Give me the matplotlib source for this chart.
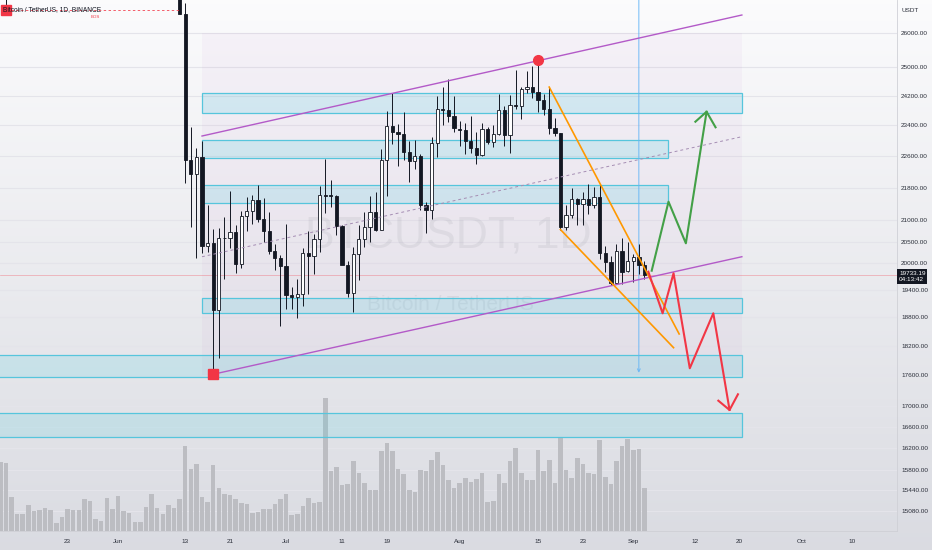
import numpy as np
import pandas as pd
import matplotlib
matplotlib.use("Agg")
import matplotlib.pyplot as plt
from matplotlib.patches import Rectangle
from matplotlib.ticker import NullLocator

plt.rcParams['font.family'] = ['Liberation Sans', 'DejaVu Sans']

BASE = pd.Timestamp("2022-05-11")


def day(s):
    return (pd.Timestamp(s) - BASE).days


# ---------------- data ----------------
# BTCUSDT daily candles: May 12 (only its lower wick is visible) + Jun 12 .. Sep 3
candle_dates = pd.DatetimeIndex(["2022-05-12"]).append(pd.date_range("2022-06-12", "2022-09-03"))

opens = [28936,
         28424, 26574, 22485, 22136, 22583, 20400, 20468, 18970, 20574, 20573, 20719, 19986, 21111, 21237,
         21491, 21038, 20742, 20281, 20123,
         19942, 19279, 19252, 19315, 20236, 20175, 20564, 21624, 21594, 21592, 20861, 19963, 19328, 20211,
         20570, 20836, 21190, 20780, 22485, 23389, 23231, 23164, 22714, 22465, 22609, 21361, 21239, 22930,
         23843, 23804, 23656,
         23296, 23266, 22978, 22818, 22622, 23313, 22954, 23174, 23810, 23151, 23954, 23933, 24401, 24443,
         24305, 24093, 23856, 23342, 23191, 20834, 21140, 21517, 21400, 21529, 21368, 21559, 20239, 20037,
         19555, 20287, 19813,
         20050, 20131, 19951]
highs = [30032,
         28544, 26895, 23362, 22800, 22995, 21365, 20792, 20815, 21090, 21723, 20900, 21233, 21558, 21614,
         21868, 21539, 21212, 20432, 20179,
         20918, 19467, 19647, 20354, 20750, 20675, 21838, 22527, 21980, 21607, 20882, 20059, 20366, 20900,
         21200, 21588, 21684, 22777, 23800, 24276, 23442, 23756, 22999, 23014, 22651, 21450, 23100, 24199,
         24442, 24668, 24194,
         23509, 23459, 23647, 23223, 23472, 23354, 23400, 24245, 23933, 24226, 24918, 24456, 24888, 25047,
         25211, 24247, 24446, 23600, 23208, 21382, 21800, 21548, 21684, 21900, 21819, 21886, 20402, 20171,
         20433, 20576, 20490,
         20208, 20440, 20055]
lows = [26700,
        26560, 21925, 20846, 20111, 20232, 20246, 17622, 17960, 19637, 20348, 19770, 19890, 20740, 20906,
        20960, 20500, 20202, 19854, 18626,
        18975, 18977, 18781, 19055, 19304, 19761, 20251, 21189, 21322, 20655, 19980, 19240, 18910, 19616,
        20384, 20478, 20750, 20762, 21581, 22906, 22341, 22500, 21950, 22257, 21250, 20706, 21042, 22582,
        23414, 23502, 23228,
        22850, 22654, 22681, 22400, 22587, 22909, 22844, 23154, 22865, 22664, 23852, 23583, 24292, 24144,
        23773, 23671, 23180, 23111, 20783, 20761, 21069, 20890, 20890, 21145, 21310, 20107, 19800, 19520,
        19550, 19540, 19797,
        19565, 19755, 19652]
closes = [29047,
          26574, 22487, 22136, 22583, 20401, 20468, 18970, 20574, 20573, 20723, 19987, 21110, 21237, 21491,
          21038, 20742, 20281, 20123, 19942,
          19279, 19252, 19315, 20236, 20175, 20564, 21624, 21594, 21591, 20862, 19963, 19328, 20212, 20569,
          20836, 21190, 20779, 22485, 23389, 23231, 23164, 22714, 22465, 22609, 21361, 21239, 22930, 23843,
          23804, 23656, 23336,
          23268, 22978, 22818, 22622, 23312, 22954, 23175, 23810, 23149, 23954, 23934, 24403, 24441, 24305,
          24094, 23854, 23342, 23191, 20834, 21140, 21515, 21399, 21529, 21368, 21559, 20242, 20037, 19555,
          20285, 19811, 20050,
          20131, 19951, 19733]

# volume, May 11 .. Sep 3 (relative units)
volume_dates = pd.date_range("2022-05-11", "2022-09-03")
volume = [207, 205, 102, 52, 50, 77, 60, 62, 70, 62, 23, 41, 65, 62, 62, 95, 90, 37, 29, 98,
          65, 105, 59, 55, 27, 27, 72, 112, 70, 50, 78, 69, 95, 254, 187, 202, 103, 88, 197, 130,
          110, 107, 95, 83, 80, 53, 57, 65, 65, 80, 95, 112, 47, 52, 75, 98, 85, 86, 400, 179,
          193, 139, 142, 209, 175, 144, 122, 122, 239, 263, 239, 185, 172, 123, 117, 183, 179, 212, 236, 199,
          152, 128, 144, 158, 147, 155, 174, 87, 90, 170, 145, 209, 250, 174, 154, 153, 242, 179, 212, 145,
          280, 183, 160, 220, 202, 174, 170, 272, 163, 142, 209, 255, 275, 242, 245, 128]

last_price = 19733.19
countdown = "04:13:42"

price_levels = [26000, 25000, 24200, 23400, 22600, 21800, 21000, 20500, 20000, 19400,
                18800, 18200, 17600, 17000, 16600, 16200, 15800, 15440, 15080]

xtick_dates = ["2022-05-23", "2022-06-01", "2022-06-13", "2022-06-21", "2022-07-01", "2022-07-11",
               "2022-07-19", "2022-08-01", "2022-08-15", "2022-08-23", "2022-09-01", "2022-09-12",
               "2022-09-20", "2022-10-01", "2022-10-10"]
xtick_labels = ["23", "Jun", "13", "21", "Jul", "11", "19", "Aug", "15", "23", "Sep", "12", "20", "Oct", "10"]

# drawings (x in days since May 11, y in USDT)
zone_start = [36, 36, 36, 36, -2, -2]
zone_end = [132.4, 119.2, 119.2, 132.4, 132.4, 132.4]
zone_low = [23724, 22540, 21428, 18890, 17561, 16412]
zone_high = [24275, 23015, 21864, 19223, 18014, 16867]

range_box_x = [36, 132.4]
range_box_y = [17608, 26000]

channel_x = [36, 132.4]
channel_top = [23120, 26539]
channel_mid = [20148, 23102]
channel_low_x = [38, 132.4]
channel_low = [17622, 20148]

wedge_top_x = [98, 121.2]
wedge_top_y = [24446, 18450]
wedge_low_x = [100, 120.2]
wedge_low_y = [20783, 18164]

bull_x = [116.3, 119.3, 122.4, 126.1]
bull_y = [19830, 21452, 20459, 23769]
bull_head_x = [124.1, 126.1, 127.7]
bull_head_y = [23500, 23769, 23351]

bear_x = [115.7, 118.25, 120.2, 123.1, 127.3, 130.2]
bear_y = [19807, 18890, 19771, 17743, 18890, 16919]
bear_head_x = [128.2, 130.2, 131.7]
bear_head_y = [17099, 16919, 17224]

bos_x = [1, 32]
bos_y = 26700
range_line_x = 114
range_line_bottom = 17650

XLIM = (-0.07, 160.1)
YLIM = (14739, 26997)

# ---------------- figure ----------------
fig = plt.figure(figsize=(9.32, 5.5), dpi=100)

bg = fig.add_axes([0, 0, 1, 1], zorder=-5)
grad = np.linspace(0, 1, 256)[:, None]
top_c = np.array([0.985, 0.985, 0.99])
bot_c = np.array([0.855, 0.86, 0.885])
bg.imshow(top_c + (bot_c - top_c) * grad[:, :, None] * np.ones((1, 1, 3)), aspect="auto",
          extent=[0, 1, 0, 1], transform=bg.transAxes)
bg.set_axis_off()

W, H = 932, 550
pos = [0, 1 - 531 / H, 897 / W, 531 / H]

# grid sits behind the volume bars
gax = fig.add_axes(pos, zorder=0)
gax.set_yscale("log")
gax.set_xlim(*XLIM)
gax.set_ylim(*YLIM)
for p in price_levels:
    gax.axhline(p, color="#e4e4ea", lw=0.8)
gax.set_axis_off()

vol = fig.add_axes(pos, zorder=1)
vdays = (volume_dates - BASE).days
vol.bar(vdays, volume, width=0.82, color="#bcbdc2")
vol.set_xlim(*XLIM)
vol.set_ylim(0, 531 * 3)
vol.set_axis_off()

ax = fig.add_axes(pos, zorder=2)
ax.patch.set_visible(False)
ax.set_yscale("log")
ax.set_xlim(*XLIM)
ax.set_ylim(*YLIM)

# axes / ticks
ax.yaxis.tick_right()
ax.set_yticks(price_levels)
ax.set_yticklabels([f"{p:.2f}" for p in price_levels])
ax.yaxis.set_minor_locator(NullLocator())
ax.tick_params(axis="y", length=0, pad=3, labelsize=4.6, labelcolor="#2a2e39")
ax.set_xticks([day(d) for d in xtick_dates])
ax.set_xticklabels(xtick_labels)
ax.tick_params(axis="x", length=0, pad=6, labelsize=4.6, labelcolor="#2a2e39")
for s in ["top", "left"]:
    ax.spines[s].set_visible(False)
for s in ["right", "bottom"]:
    ax.spines[s].set_color("#cfd0d6")
    ax.spines[s].set_linewidth(0.6)

# range box tint
ax.add_patch(Rectangle((range_box_x[0], range_box_y[0]), range_box_x[1] - range_box_x[0],
                       range_box_y[1] - range_box_y[0], facecolor="#9c27b0", alpha=0.035,
                       edgecolor="none", zorder=0.6))

# watermark
wm = "#787b86"
ax.text(80, 20640, "BTCUSDT, 1D", ha="center", va="center", fontsize=32, color=wm, alpha=0.11,
        zorder=0.7)
ax.text(80.3, 19070, "Bitcoin / TetherUS", ha="center", va="center", fontsize=15, color=wm, alpha=0.11,
        zorder=0.7)

# zones
for x0, x1, lo, hi in zip(zone_start, zone_end, zone_low, zone_high):
    ax.add_patch(Rectangle((x0, lo), x1 - x0, hi - lo, facecolor="#4dd0e1", alpha=0.19,
                           edgecolor="none", zorder=1))
    ax.add_patch(Rectangle((x0, lo), x1 - x0, hi - lo, facecolor="none",
                           edgecolor="#56c5dc", lw=0.9, zorder=1.1))

# last price line
ax.axhline(last_price, color="#f23645", lw=0.5, alpha=0.4, zorder=1.2)

# candles
cdays = np.asarray((candle_dates - BASE).days)
o, h, l, c = (np.array(v, dtype=float) for v in (opens, highs, lows, closes))
up = c >= o
blo = np.minimum(o, c)
bhi = np.maximum(np.maximum(o, c), blo * 1.0007)
ax.vlines(cdays, l, h, color="#131722", lw=0.7, zorder=3)
ax.bar(cdays[up], (bhi - blo)[up], bottom=blo[up], width=0.6, facecolor="white",
       edgecolor="#131722", lw=0.6, zorder=3.1)
ax.bar(cdays[~up], (bhi - blo)[~up], bottom=blo[~up], width=0.6, facecolor="#131722",
       edgecolor="#131722", lw=0.6, zorder=3.1)

# channel
purple = "#b35ac8"
ax.plot(channel_x, channel_top, color=purple, lw=1.0, zorder=4)
ax.plot(channel_low_x, channel_low, color=purple, lw=1.0, zorder=4)
ax.plot(channel_x, channel_mid, color="#a58db3", lw=0.7, ls=(0, (3, 3)), zorder=4)

# falling wedge
ax.plot(wedge_top_x, wedge_top_y, color="#ff9800", lw=1.2, zorder=4)
ax.plot(wedge_low_x, wedge_low_y, color="#ff9800", lw=1.2, zorder=4)

# scenario paths
ax.plot(bull_x, bull_y, color="#43a047", lw=1.5, zorder=4.2)
ax.plot(bull_head_x, bull_head_y, color="#43a047", lw=1.5, zorder=4.2)
ax.plot(bear_x, bear_y, color="#f23645", lw=1.5, zorder=4.3)
ax.plot(bear_head_x, bear_head_y, color="#f23645", lw=1.5, zorder=4.3)

# range line with arrow
ax.annotate("", xy=(range_line_x, range_line_bottom), xytext=(range_line_x, 27500),
            arrowprops=dict(arrowstyle="->", color="#64b5f6", lw=0.8, alpha=0.8,
                            shrinkA=0, shrinkB=0, mutation_scale=5), zorder=2.5)

# BOS
ax.plot(bos_x, [bos_y, bos_y], color="#f23645", lw=0.7, ls=(0, (2.5, 2.5)), alpha=0.8, zorder=4)
ax.text(17, 26478, "BOS", ha="center", va="center", fontsize=3.2, color="#f23645", zorder=4)

# swing markers
ax.plot([1, 38], [26700, 17622], ls="none", marker="s", ms=7.5, color="#f23645", zorder=5)
ax.plot([96], [25211], ls="none", marker="o", ms=7, color="#f23645", zorder=5)

# header texts
fig.text(3 / W, 1 - 10 / H, "Bitcoin / TetherUS, 1D, BINANCE", fontsize=4.8, color="#131722",
         va="center", ha="left", zorder=10)
fig.text(901 / W, 1 - 10 / H, "USDT", fontsize=4.6, color="#2a2e39", va="center", ha="left")

# last price tag
fig.text(899 / W, 1 - 276.5 / H, f"{last_price:.2f}\n{countdown}", fontsize=4.6, color="white",
         va="center", ha="left", linespacing=1.35, zorder=10,
         bbox=dict(boxstyle="square,pad=0.3", fc="#131722", ec="none"))

fig.savefig("out.png", dpi=100)
